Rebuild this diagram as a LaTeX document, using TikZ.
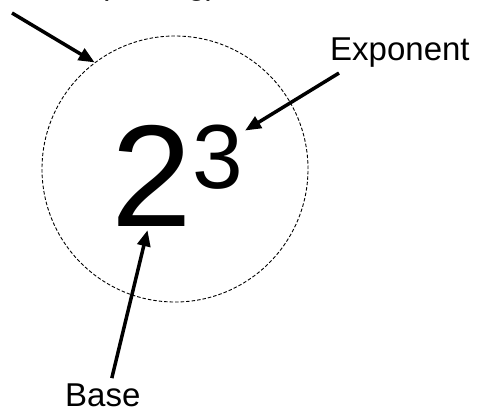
\documentclass[tikz,border=0pt]{standalone}
\usepackage{fontspec}
\setmainfont{Liberation Sans}
\usetikzlibrary{positioning}
\usetikzlibrary{arrows.meta}

\begin{document}
\begin{tikzpicture}[x=1pt,y=-1pt,
		pointer/.style = {line width = 3.5pt, -{Triangle[length = 16pt, width = 13pt]}},
		tag/.style = {inner sep = 0pt, font = \fontsize{33}{36}\selectfont}]
		\useasboundingbox (0,0) rectangle (478,410);
		\node[draw, circle, dash pattern = on 3.5pt off 2pt, line width = 0.9pt, minimum size = 266pt] at (175,169) (ring) {};
		\node[anchor = base west, inner sep = 0pt, font = \fontsize{145}{150}\selectfont] at (111,226) (base) {2};
		\node[anchor = north west, inner sep = 0pt, font = \fontsize{91}{95}\selectfont] at (base.north east) (expo) {3};
		\node[tag, anchor = base west] at (330,60) (explabel) {Exponent};
		\node[tag, anchor = base west] at (65,406) (baselabel) {Base};
		\node[tag, anchor = base west] at (-5,-6) (powerlabel) {Power (raising)};
		\coordinate (powertail) at (12,13);
		\draw[pointer] (powertail) -- (ring.127);
		\draw[pointer] ([shift = {(9,6)}]explabel.south west) -- ([shift = {(2,6)}]expo.north east);
		\draw[pointer] ([shift = {(9,-5)}]baselabel.north) -- ([shift = {(-4,4)}]base.south);
	\end{tikzpicture}
\end{document}
